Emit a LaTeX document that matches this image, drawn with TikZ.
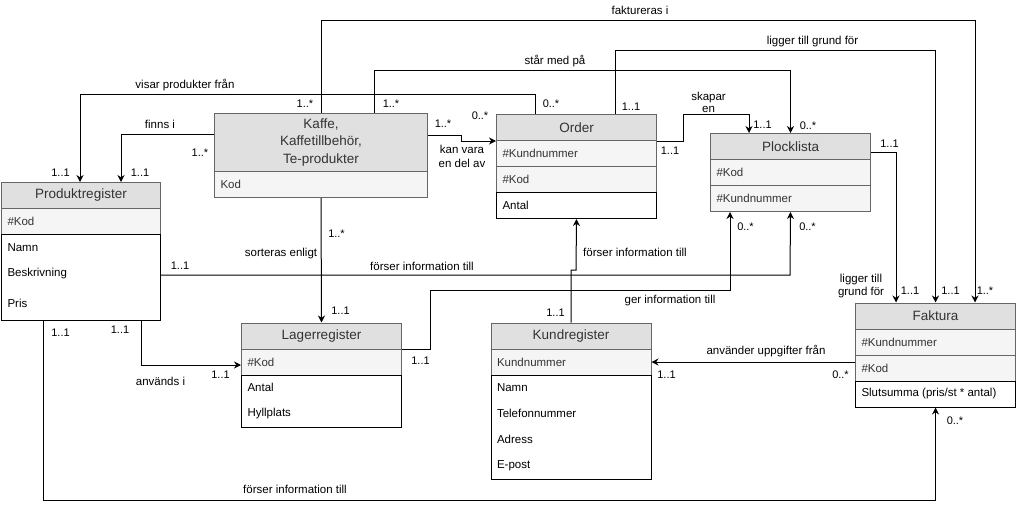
\documentclass[tikz,border=0pt]{standalone}
\usepackage{fontspec}
\setmainfont{Liberation Sans}
\usetikzlibrary{arrows.meta}

\definecolor{hdfill}{HTML}{E0E0E0}
\definecolor{keyfill}{HTML}{F5F5F5}
\definecolor{rowedge}{HTML}{666666}
\definecolor{dark}{HTML}{333333}

\begin{document}
\begin{tikzpicture}[x=1pt, y=-1pt, line width=1pt,
    tblhead/.style={draw=rowedge, fill=hdfill, anchor=north west, minimum width=160pt, minimum height=26pt, inner sep=0pt, align=center, text=dark, font=\fontsize{13.5}{17.5}\selectfont},
    tblkey/.style={draw=rowedge, fill=keyfill, anchor=north west, minimum height=26pt, text width=148pt, inner xsep=6pt, inner ysep=0pt, align=left, text=dark, font=\fontsize{11.5}{14}\selectfont},
    tblbody/.style={draw=black, fill=white, anchor=north west, minimum width=160pt, inner sep=0pt},
    tblattr/.style={anchor=west, inner sep=0pt, font=\fontsize{11.5}{14}\selectfont},
    edgelabel/.style={inner sep=0pt, align=center, font=\fontsize{11.5}{13.5}\selectfont},
    multlabel/.style={inner sep=0pt, font=\fontsize{11}{13}\selectfont},
    assoc/.style={-{Stealth[length=7pt,width=7pt]}}]
    \useasboundingbox (0,0) rectangle (1016,509);

    % Produktregister
    \node[tblhead, minimum width=159pt] (prodh) at (1,182) {Produktregister};
    \node[tblkey, text width=147pt] (prodk) at (1,208) {\#Kod};
    \node[tblbody, minimum width=159pt, minimum height=86pt] (prodb) at (1,234) {};
    \node[tblattr] (prodn) at (7,247.5) {Namn};
    \node[tblattr] (prodbe) at (7,273.5) {Beskrivning};
    \node[tblattr] (prodp) at (7,303) {Pris};

    % Kaffe
    \node[tblhead, minimum width=213pt, minimum height=58pt] (kaffeh) at (214,113) {Kaffe,\\Kaffetillbehör,\\Te-produkter};
    \node[tblkey, text width=201pt] (kaffek) at (214,171) {Kod};

    % Order
    \node[tblhead] (orderh) at (496,114) {Order};
    \node[tblkey] (orderk1) at (496,140) {\#Kundnummer};
    \node[tblkey] (orderk2) at (496,166) {\#Kod};
    \node[tblbody, minimum height=26pt] (orderb) at (496,192) {};
    \node[tblattr] (ordera) at (502,205.5) {Antal};

    % Plocklista
    \node[tblhead] (plockh) at (710,133) {Plocklista};
    \node[tblkey] (plockk1) at (710,159) {\#Kod};
    \node[tblkey] (plockk2) at (710,185) {\#Kundnummer};

    % Lagerregister
    \node[tblhead] (lagerh) at (241,322.5) {Lagerregister};
    \node[tblkey] (lagerk) at (241,348.5) {\#Kod};
    \node[tblbody, minimum height=52pt] (lagerb) at (241,374.5) {};
    \node[tblattr] (lagera) at (247,387.5) {Antal};
    \node[tblattr] (lagerhy) at (247,413.5) {Hyllplats};

    % Kundregister
    \node[tblhead] (kundh) at (490.5,322.5) {Kundregister};
    \node[tblkey] (kundk) at (490.5,348.5) {Kundnummer};
    \node[tblbody, minimum height=104pt] (kundb) at (490.5,374.5) {};
    \node[tblattr] (kundn) at (496.5,387.5) {Namn};
    \node[tblattr] (kundt) at (496.5,413.5) {Telefonnummer};
    \node[tblattr] (kunda) at (496.5,439.5) {Adress};
    \node[tblattr] (kunde) at (496.5,465.5) {E-post};

    % Faktura
    \node[tblhead] (fakth) at (855,302.5) {Faktura};
    \node[tblkey] (faktk1) at (855,328.5) {\#Kundnummer};
    \node[tblkey] (faktk2) at (855,354.5) {\#Kod};
    \node[tblbody, minimum height=26pt] (faktb) at (855,380.5) {};
    \node[tblattr] (fakts) at (861,393.5) {Slutsumma (pris/st * antal)};

    % bend points
    \coordinate (c1) at (975,20);
    \coordinate (c2) at (374,70);
    \coordinate (c3) at (535.5,94);
    \coordinate (c3b) at (80,94);
    \coordinate (c4) at (121,134);
    \coordinate (c5) at (461,135);
    \coordinate (c6) at (683,114);
    \coordinate (c6b) at (749,114);
    \coordinate (c7) at (615,50);
    \coordinate (c8) at (896,152);
    \coordinate (c9) at (790,275);
    \coordinate (c10) at (430,290.5);
    \coordinate (c10b) at (730,290.5);
    \coordinate (c11) at (576,270);
    \coordinate (c13) at (43,500);
    \coordinate (c14) at (141.5,365);

    % connectors
    \draw[assoc] (kaffeh.north) |- (c1) -- (c1 |- fakth.north);
    \draw[assoc] (c2 |- kaffeh.north) -- (c2) -| (plockh.north);
    \draw[assoc] (c3 |- orderh.north) -- (c3) -- (c3b) -- (c3b |- prodh.north);
    \draw[assoc] (c4 -| kaffeh.west) -- (c4) -- (c4 |- prodh.north);
    \draw[assoc] (c5 -| kaffeh.east) -- (c5) |- (orderh.south west);
    \draw[assoc] (orderh.south east) -| (c6) -- (c6b) -- (c6b |- plockh.north);
    \draw[assoc] (c7 |- orderh.north) -- (c7) -| (fakth.north);
    \draw[assoc] (c8 -| plockh.east) -- (c8) -- (c8 |- fakth.north);
    \draw[assoc] (c9 -| prodb.east) -- (c9) -- (plockk2.south);
    \draw[assoc] (lagerh.south east) -| (c10) -- (c10b) -- (c10b |- plockk2.south);
    \draw[assoc] (kundh.north) |- (c11) -- (orderb.south);
    \draw[assoc] (kundk.east -| faktk2.west) -- (kundk.east);
    \draw[assoc] (c13 |- prodb.south) -- (c13) -| (faktb.south);
    \draw[assoc] (c14 |- prodb.south) -- (c14) -- (c14 -| lagerk.west);
    \draw[assoc] (kaffek.south) -- (lagerh.north);

    % labels
    \node[edgelabel] (l1) at (640,10) {faktureras i};
    \node[edgelabel] (l2) at (555,61) {står med på};
    \node[edgelabel] (l3) at (185,85) {visar produkter från};
    \node[edgelabel] (l4) at (160,124.5) {finns i};
    \node[edgelabel, font=\fontsize{11.5}{13.3}\selectfont] (l5) at (462,156.5) {kan vara\\en del av};
    \node[edgelabel, font=\fontsize{11.5}{11.7}\selectfont] (l6) at (708.5,102.5) {skapar\\en};
    \node[edgelabel] (l7) at (812.5,42) {ligger till grund för};
    \node[edgelabel, font=\fontsize{11.5}{13.7}\selectfont] (l8) at (861,286) {ligger till\\grund för};
    \node[edgelabel] (l9) at (422,266) {förser information till};
    \node[edgelabel] (l10) at (670,300.5) {ger information till};
    \node[edgelabel] (l11) at (635,252) {förser information till};
    \node[edgelabel] (l12) at (766,351) {använder uppgifter från};
    \node[edgelabel] (l13) at (295,489) {förser information till};
    \node[edgelabel] (l14) at (160.5,381) {används i};
    \node[edgelabel] (l15) at (281,254) {sorteras enligt};

    % multiplicities
    \node[multlabel] (m1) at (305,103.5) {1..*};
    \node[multlabel] (m2) at (391,103.5) {1..*};
    \node[multlabel] (m3) at (985,291) {1..*};
    \node[multlabel] (m4) at (808,125.5) {0..*};
    \node[multlabel] (m5) at (551,104) {0..*};
    \node[multlabel] (m6) at (60.5,173) {1..1};
    \node[multlabel] (m7) at (140,173) {1..1};
    \node[multlabel] (m8) at (200,153) {1..*};
    \node[multlabel] (m9) at (443,123.5) {1..*};
    \node[multlabel] (m10) at (480,116) {0..*};
    \node[multlabel] (m11) at (670,151) {1..1};
    \node[multlabel] (m12) at (762.5,125) {1..1};
    \node[multlabel] (m13) at (631,107) {1..1};
    \node[multlabel] (m14) at (950.5,291) {1..1};
    \node[multlabel] (m15) at (910,291) {1..1};
    \node[multlabel] (m16) at (889.5,144) {1..1};
    \node[multlabel] (m17) at (807.5,227) {0..*};
    \node[multlabel] (m18) at (180,265.5) {1..1};
    \node[multlabel] (m19) at (745.5,227) {0..*};
    \node[multlabel] (m20) at (420.5,361) {1..1};
    \node[multlabel] (m21) at (555.5,313) {1..1};
    \node[multlabel] (m22) at (840.5,374.5) {0..*};
    \node[multlabel] (m23) at (666.5,374.5) {1..1};
    \node[multlabel] (m24) at (60.5,333) {1..1};
    \node[multlabel] (m25) at (955,421) {0..*};
    \node[multlabel] (m26) at (120,330) {1..1};
    \node[multlabel] (m27) at (220.5,375) {1..1};
    \node[multlabel] (m28) at (336.5,233.5) {1..*};
    \node[multlabel] (m29) at (340.5,311) {1..1};
\end{tikzpicture}
\end{document}
